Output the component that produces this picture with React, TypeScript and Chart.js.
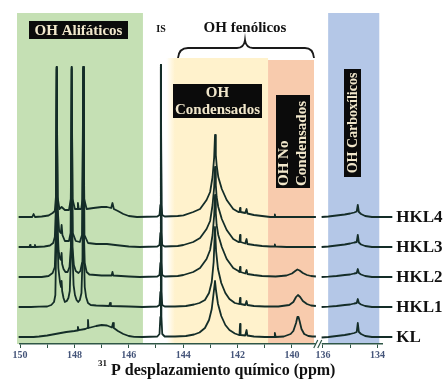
import React, { useEffect, useRef } from 'react';
import { Chart, registerables } from 'chart.js';

Chart.register(...registerables);

// ---- axis break: ppm values below BREAK_AT are shifted right after the break
const OFFSET = 2.86;
const BREAK_AT = 137.5;
const toAxis = (ppm: number) => (ppm < BREAK_AT ? ppm + OFFSET : ppm);
const fromAxis = (v: number) => (v < 139.0 ? v - OFFSET : v);

const TICK_PPM = [150, 149, 148, 147, 146, 145, 144, 143, 142, 141, 140, 136, 135, 134];

const SERIES_NAMES = ['HKL4', 'HKL3', 'HKL2', 'HKL1', 'KL'];
const SERIES_BASE = [127, 97, 67, 37, 7];

// ---- shaded regions (ppm from, ppm to), top level, colour
const REGION_PPM: [number, number][] = [
  [150.11, 145.48],
  [144.3, 140.88],
  [140.88, 139.19],
  [135.81, 133.93],
];
const REGION_TOP = [331, 286, 284, 331];
const REGION_COLORS = ['#c5e0b4', '#fff2cc', '#f8cbad', '#b4c7e7'];

// ---- spectra: [ppm, intensity above own baseline]
const HKL4_MAIN: [number, number][] = [
  [150.05, 0], [149.55, 0], [149.5, 3], [149.45, 0], [149.2, 0.5], [148.95, 1.5], [148.8, 4], [148.72, 6],
  [148.68, 20], [148.65, 148], [148.62, 20], [148.55, 8], [148.47, 10], [148.35, 7], [148.2, 7], [148.13, 18],
  [148.1, 148], [148.07, 18], [147.98, 8], [147.9, 8], [147.87, 14], [147.84, 8], [147.75, 8], [147.7, 18],
  [147.67, 148], [147.64, 18], [147.55, 8], [147.3, 9], [147.0, 10], [146.8, 10], [146.65, 9], [146.6, 14],
  [146.55, 8], [146.4, 6], [146.2, 3], [146.0, 1], [145.7, 0], [144.95, 0.5], [144.87, 2], [144.84, 12],
  [144.82, 152], [144.8, 12], [144.77, 2], [144.68, 0.5], [144.2, 1], [143.99, 1.7], [143.63, 5], [143.38, 8],
  [143.14, 17], [143.01, 25], [142.92, 40], [142.86, 60], [142.83, 82], [142.8, 62], [142.77, 52], [142.71, 40],
  [142.58, 28], [142.4, 17], [142.16, 8], [141.97, 5], [141.93, 5], [141.91, 9], [141.89, 5], [141.72, 4],
  [141.67, 8], [141.64, 3.5], [141.4, 2], [141.1, 1], [140.8, 0], [140.65, 0], [140.63, 2.5], [140.61, 0],
  [139.12, 0],
];
const HKL4_TAIL: [number, number][] = [
  [136.05, 0], [135.8, 0.5], [135.5, 1.5], [135.2, 2.5], [135.0, 3.5], [134.85, 4.5], [134.76, 5.5],
  [134.72, 12], [134.68, 5], [134.6, 3], [134.45, 1], [134.2, 0], [133.45, 0],
];

const HKL3_MAIN: [number, number][] = [
  [150.05, 0], [149.65, 0], [149.63, 2], [149.61, 0], [149.47, 0], [149.45, 2], [149.43, 0], [149.1, 0.5],
  [148.9, 1.5], [148.78, 4], [148.72, 10], [148.68, 40], [148.65, 180], [148.62, 40], [148.56, 16], [148.5, 14],
  [148.47, 22], [148.44, 12], [148.35, 6], [148.2, 6], [148.14, 14], [148.1, 180], [148.06, 14], [147.95, 6],
  [147.8, 5], [147.72, 12], [147.67, 180], [147.63, 12], [147.5, 4], [147.2, 3], [146.8, 3], [146.5, 2],
  [146.0, 0.5], [145.6, 0], [144.95, 0.5], [144.87, 2], [144.84, 14], [144.82, 182], [144.8, 14], [144.77, 2],
  [144.68, 0.5], [144.2, 1], [143.99, 2], [143.63, 5], [143.38, 9], [143.14, 18], [143.01, 26], [142.92, 42],
  [142.86, 60], [142.83, 80], [142.8, 62], [142.77, 50], [142.71, 40], [142.58, 28], [142.4, 17], [142.16, 8],
  [141.97, 5], [141.93, 5], [141.91, 12], [141.89, 5], [141.72, 3.5], [141.67, 8], [141.64, 3], [141.4, 2],
  [141.1, 1], [140.8, 0.5], [140.65, 0.5], [140.63, 2.5], [140.61, 0.5], [140.2, 0], [139.12, 0],
];
const HKL3_TAIL: [number, number][] = [
  [136.05, 0], [135.8, 0.5], [135.5, 1.5], [135.2, 2.5], [135.0, 3.5], [134.85, 4.5], [134.76, 5],
  [134.72, 12], [134.68, 4.5], [134.6, 2.5], [134.45, 1], [134.2, 0], [133.45, 0],
];

const HKL2_MAIN: [number, number][] = [
  [150.05, 0], [149.2, 0], [148.95, 1], [148.8, 4], [148.72, 10], [148.68, 45], [148.65, 210], [148.62, 50],
  [148.58, 26], [148.52, 18], [148.49, 17], [148.47, 24], [148.45, 13], [148.4, 8], [148.33, 5], [148.25, 5],
  [148.18, 10], [148.13, 30], [148.1, 115], [148.07, 30], [148.02, 12], [147.95, 6], [147.85, 4], [147.78, 6],
  [147.72, 14], [147.69, 45], [147.67, 210], [147.65, 45], [147.62, 14], [147.55, 5], [147.45, 2.5], [147.0, 1.5],
  [146.63, 1.5], [146.6, 5], [146.57, 1.5], [146.0, 0.5], [145.6, 0], [144.95, 0.5], [144.87, 2], [144.84, 14],
  [144.82, 212], [144.8, 14], [144.77, 2], [144.68, 0.5], [144.2, 1], [143.99, 2], [143.63, 5], [143.38, 9],
  [143.14, 18], [143.01, 27], [142.92, 42], [142.86, 62], [142.83, 82], [142.8, 64], [142.77, 52], [142.71, 42],
  [142.58, 30], [142.4, 18], [142.16, 9], [141.97, 6], [141.93, 5], [141.91, 10], [141.89, 5], [141.72, 3.5],
  [141.67, 7], [141.64, 3], [141.4, 2], [141.1, 1], [140.6, 0.5], [140.2, 1.5], [140.0, 3.5], [139.88, 6],
  [139.8, 7.5], [139.72, 6.5], [139.6, 4], [139.45, 2], [139.3, 1], [139.12, 0.5],
];
const HKL2_TAIL: [number, number][] = [
  [136.05, 0], [135.8, 0.3], [135.5, 1], [135.2, 2], [135.0, 2.5], [134.85, 3.5], [134.76, 4],
  [134.72, 8], [134.68, 4], [134.6, 2.5], [134.45, 1], [134.2, 0], [133.45, 0],
];

const HKL1_MAIN: [number, number][] = [
  [150.05, 0], [149.6, 0], [149.3, 0.3], [149.0, 0.5], [148.85, 2], [148.75, 5], [148.7, 12], [148.67, 60],
  [148.65, 240], [148.62, 70], [148.59, 39], [148.53, 25], [148.49, 20], [148.47, 26], [148.45, 16], [148.4, 9],
  [148.35, 5], [148.28, 6], [148.22, 9], [148.17, 16], [148.12, 60], [148.1, 240], [148.08, 60], [148.03, 22],
  [147.98, 12], [147.92, 7], [147.86, 5], [147.8, 7], [147.74, 14], [147.7, 50], [147.67, 240], [147.65, 55],
  [147.62, 20], [147.57, 10], [147.5, 4], [147.4, 2], [147.2, 1.5], [146.72, 1], [146.69, 4], [146.66, 1],
  [146.0, 0.5], [145.5, 0], [144.95, 0.5], [144.87, 2], [144.84, 15], [144.82, 240], [144.8, 15], [144.77, 2],
  [144.68, 0.5], [144.3, 0.5], [143.9, 1], [143.6, 2.5], [143.4, 4], [143.2, 7], [143.05, 14], [142.95, 25],
  [142.88, 45], [142.83, 80], [142.79, 56], [142.72, 38], [142.6, 24], [142.45, 14], [142.3, 8], [142.1, 4],
  [141.95, 3], [141.93, 3], [141.91, 9], [141.89, 3], [141.72, 2], [141.67, 6], [141.64, 2], [141.4, 1],
  [141.0, 0.5], [140.5, 0.5], [140.1, 2], [139.95, 5], [139.85, 10], [139.78, 12], [139.7, 10], [139.6, 6],
  [139.45, 3], [139.3, 1.5], [139.12, 1],
];
const HKL1_TAIL: [number, number][] = [
  [136.05, 0], [135.8, 0.3], [135.5, 1], [135.2, 2], [135.0, 2.5], [134.85, 3.5], [134.76, 4],
  [134.72, 8], [134.68, 4], [134.6, 2.5], [134.45, 1], [134.2, 0], [133.45, 0],
];

const KL_MAIN: [number, number][] = [
  [150.05, 0], [149.5, 0], [149.3, 0.5], [149.0, 1.5], [148.6, 3.5], [148.3, 5], [148.0, 6], [147.9, 6.5],
  [147.87, 10], [147.84, 6.8], [147.6, 8], [147.52, 9], [147.5, 17], [147.48, 9], [147.2, 11], [147.0, 12],
  [146.8, 11.5], [146.62, 9.5], [146.58, 14], [146.55, 9], [146.4, 6], [146.2, 3], [146.0, 1], [145.8, 0.2],
  [145.5, 0], [144.95, 0.5], [144.87, 3], [144.84, 20], [144.82, 272], [144.8, 20], [144.77, 3], [144.68, 0.5],
  [144.3, 0.5], [143.9, 1], [143.6, 2.5], [143.4, 4.5], [143.2, 9], [143.05, 17], [142.95, 28], [142.88, 44],
  [142.83, 56], [142.79, 46], [142.72, 33], [142.6, 21], [142.45, 12], [142.3, 7], [142.1, 3.5], [141.95, 2],
  [141.93, 2], [141.91, 13], [141.89, 2], [141.72, 1.5], [141.67, 7], [141.64, 1.5], [141.4, 0.5], [141.0, 0],
  [140.66, 0], [140.63, 4], [140.6, 0], [140.3, 0.5], [140.05, 3], [139.95, 6], [139.85, 14], [139.8, 20],
  [139.76, 20], [139.72, 16], [139.65, 8], [139.55, 3], [139.4, 1], [139.25, 0.5], [139.12, 0.5],
];
const KL_TAIL: [number, number][] = [
  [136.05, -0.5], [135.8, 0], [135.5, 1], [135.2, 2], [135.0, 3], [134.85, 4], [134.76, 5],
  [134.72, 14], [134.68, 5], [134.6, 3], [134.45, 1], [134.2, 0], [133.45, 0],
];

const SERIES_MAIN = [HKL4_MAIN, HKL3_MAIN, HKL2_MAIN, HKL1_MAIN, KL_MAIN];
const SERIES_TAIL = [HKL4_TAIL, HKL3_TAIL, HKL2_TAIL, HKL1_TAIL, KL_TAIL];

const LINE_COLOR = '#142d28';
const AXIS_COLOR = '#2f5646';
const SERIF = '"Liberation Serif", "DejaVu Serif", serif';
const BOX_TEXT = '#f1e7cb';

function buildData(main: [number, number][], tail: [number, number][], base: number) {
  const pts: { x: number; y: number | null }[] = main.map(([p, v]) => ({ x: toAxis(p), y: base + v }));
  pts.push({ x: 139.0, y: null });
  tail.forEach(([p, v]) => pts.push({ x: toAxis(p), y: base + v }));
  return pts;
}

const regionsPlugin = {
  id: 'regions',
  beforeDraw(chart: any) {
    const { ctx, chartArea, scales } = chart;
    const x = scales.x;
    const y = scales.y;
    ctx.save();
    REGION_PPM.forEach(([a, b], i) => {
      const x1 = x.getPixelForValue(toAxis(a));
      const x2 = x.getPixelForValue(toAxis(b));
      const yt = y.getPixelForValue(REGION_TOP[i]);
      ctx.fillStyle = REGION_COLORS[i];
      ctx.fillRect(x1, yt, x2 - x1, chartArea.bottom - yt);
    });
    // soft left edge of the yellow region
    const gx1 = x.getPixelForValue(144.62);
    const gx2 = x.getPixelForValue(144.3);
    const gy = y.getPixelForValue(REGION_TOP[1]);
    const g = ctx.createLinearGradient(gx1, 0, gx2, 0);
    g.addColorStop(0, 'rgba(255,242,204,0)');
    g.addColorStop(1, 'rgba(255,242,204,1)');
    ctx.fillStyle = g;
    ctx.fillRect(gx1, gy, gx2 - gx1, chartArea.bottom - gy);
    ctx.restore();
  },
};

const annotPlugin = {
  id: 'annot',
  afterDraw(chart: any) {
    const { ctx, chartArea, scales } = chart;
    const x = scales.x;
    const y = scales.y;
    ctx.save();

    // axis break
    const xa = x.getPixelForValue(toAxis(139.12));
    const xb = x.getPixelForValue(toAxis(136.05));
    const xm = (xa + xb) / 2;
    const yb = chartArea.bottom;
    ctx.fillStyle = '#ffffff';
    ctx.fillRect(xm - 3, yb - 2, 6, 5);
    ctx.strokeStyle = AXIS_COLOR;
    ctx.lineWidth = 1.2;
    ctx.beginPath();
    ctx.moveTo(xm - 5, yb + 4); ctx.lineTo(xm - 1, yb - 4);
    ctx.moveTo(xm - 1, yb + 4); ctx.lineTo(xm + 3, yb - 4);
    ctx.stroke();

    // boxed labels
    ctx.fillStyle = '#0b0b0b';
    ctx.fillRect(29, 21, 99, 18);
    ctx.fillRect(173, 84, 89, 34);
    ctx.fillRect(276, 95, 34, 93);
    ctx.fillRect(344, 69, 17, 108);

    ctx.fillStyle = BOX_TEXT;
    ctx.textAlign = 'center';
    ctx.textBaseline = 'middle';
    ctx.font = `bold 15px ${SERIF}`;
    ctx.fillText('OH Alifáticos', 78.5, 31);
    ctx.fillText('OH', 217.5, 93);
    ctx.fillText('Condensados', 217.5, 110);

    ctx.save();
    ctx.translate(284, 186);
    ctx.rotate(-Math.PI / 2);
    ctx.textAlign = 'left';
    ctx.fillText('OH No', 0, 0);
    ctx.restore();
    ctx.save();
    ctx.translate(302, 186);
    ctx.rotate(-Math.PI / 2);
    ctx.textAlign = 'left';
    ctx.fillText('Condensados', 0, 0);
    ctx.restore();
    ctx.save();
    ctx.translate(353, 123);
    ctx.rotate(-Math.PI / 2);
    ctx.font = `bold 14px ${SERIF}`;
    ctx.fillText('OH Carboxílicos', 0, 0);
    ctx.restore();

    // plain labels
    ctx.fillStyle = '#111111';
    ctx.font = `bold 10px ${SERIF}`;
    ctx.fillText('IS', 161, 29);
    ctx.font = `bold 15px ${SERIF}`;
    ctx.fillText('OH fenólicos', 245, 28);

    // brace
    ctx.strokeStyle = '#1a1a1a';
    ctx.lineWidth = 1.8;
    ctx.beginPath();
    ctx.moveTo(178, 58);
    ctx.quadraticCurveTo(179, 48, 188, 48);
    ctx.lineTo(237, 48);
    ctx.quadraticCurveTo(244, 48, 245, 40);
    ctx.quadraticCurveTo(246, 48, 253, 48);
    ctx.lineTo(305, 48);
    ctx.quadraticCurveTo(313, 48, 314, 58);
    ctx.stroke();

    // series names
    ctx.font = `bold 17px ${SERIF}`;
    ctx.textAlign = 'left';
    ctx.fillStyle = '#111111';
    const lx = x.getPixelForValue(toAxis(133.45)) + 4;
    SERIES_NAMES.forEach((n, i) => {
      ctx.fillText(n, lx, y.getPixelForValue(SERIES_BASE[i]) + 1);
    });

    // axis title
    ctx.textBaseline = 'alphabetic';
    ctx.font = `bold 9px ${SERIF}`;
    ctx.fillText('31', 98, 366);
    ctx.font = `bold 16px ${SERIF}`;
    ctx.fillText('P desplazamiento químico (ppm)', 111, 375);

    ctx.restore();
  },
};

export default function App() {
  const ref = useRef<HTMLCanvasElement>(null);
  useEffect(() => {
    document.body.style.margin = '0';
    const datasets = SERIES_NAMES.map((name, i) => ({
      label: name,
      data: buildData(SERIES_MAIN[i], SERIES_TAIL[i], SERIES_BASE[i]),
      borderColor: LINE_COLOR,
      borderWidth: 1.8,
      pointRadius: 0,
      tension: 0,
      spanGaps: false,
      clip: false as any,
      borderJoinStyle: 'round' as const,
    }));
    const chart = new Chart(ref.current!, {
      type: 'line',
      data: { datasets },
      plugins: [regionsPlugin, annotPlugin],
      options: {
        animation: false,
        responsive: false,
        devicePixelRatio: 1,
        layout: { padding: { left: 20, right: 65, top: 13, bottom: 23 } },
        plugins: { legend: { display: false }, tooltip: { enabled: false } },
        scales: {
          x: {
            type: 'linear',
            reverse: true,
            min: 136.69,
            max: 150,
            afterBuildTicks: (s: any) => {
              s.ticks = TICK_PPM.map((p) => ({ value: toAxis(p) }));
            },
            ticks: {
              autoSkip: false,
              maxRotation: 0,
              padding: 1,
              color: '#45557a',
              font: { family: SERIF, size: 10, weight: 'bold' },
              callback: (v: any) => {
                const p = Math.round(fromAxis(Number(v)));
                return p % 2 === 0 ? String(p) : '';
              },
            },
            grid: { drawOnChartArea: false, drawTicks: true, tickLength: 4, color: AXIS_COLOR, lineWidth: 1 },
            border: { display: true, color: AXIS_COLOR, width: 1.5 },
          },
          y: { type: 'linear', min: 0, max: 331, display: false },
        },
      },
    });
    return () => chart.destroy();
  }, []);
  return (
    <div style={{ width: 447, height: 385 }}>
      <canvas ref={ref} width={447} height={385} style={{ display: 'block' }} />
    </div>
  );
}
